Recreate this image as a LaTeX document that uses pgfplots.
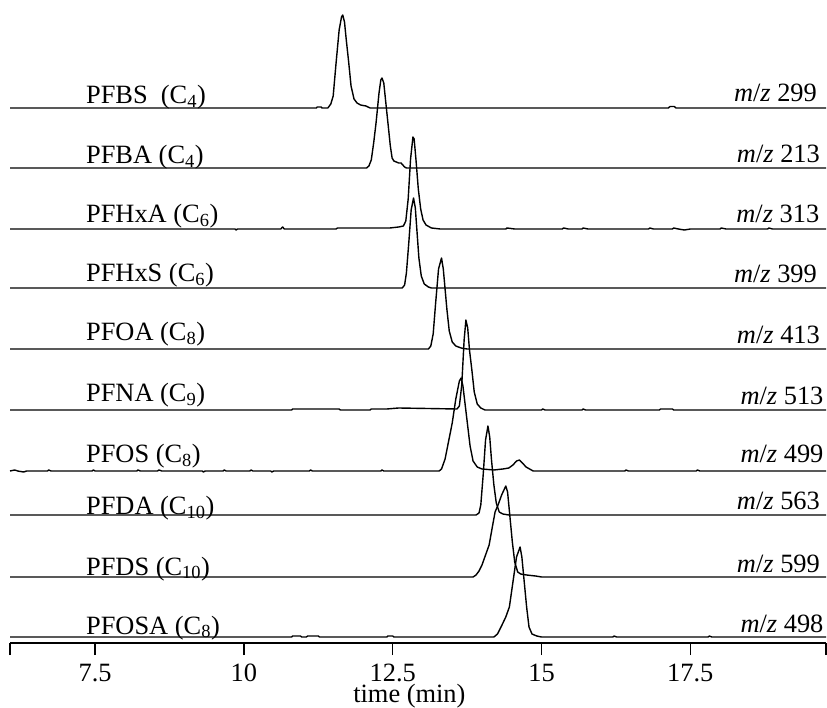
\documentclass[border=0pt]{standalone}
\usepackage{pgfplots}
\pgfplotsset{compat=1.18}
\usepackage{fontspec}
\setmainfont{Liberation Serif}
\pgfplotsset{trace/.style={black, solid, no marks, line width=1.4bp, line join=round}}
\begin{document}
\fontsize{26.5}{31}\selectfont
\begin{tikzpicture}
\useasboundingbox (-10bp,-65bp) rectangle (817bp,643bp);
\begin{axis}[
  scale only axis, width=816bp, height=643bp,
  xmin=6.07, xmax=19.78, ymin=0, ymax=643,
  axis x line*=bottom, axis y line=none,
  axis line style={line width=1.7bp},
  xtick={7.5,10,12.5,15,17.5},
  xticklabels={7.5,10,12.5,15,17.5},
  extra x ticks={6.07,19.78}, extra x tick labels={},
  tick align=outside, major tick length=12bp,
  every tick/.style={line width=1.3bp, black},
  /pgf/number format/assume math mode=true,
  xticklabel style={font=\fontsize{26.5}{31}\selectfont, yshift=0bp},
  clip=false,
]
% PFBS
\addplot[trace] table[y expr=\thisrowno{1}+535] {
x y
6.07 0
11.22 0
11.23 1
11.30 1
11.31 0
11.41 0
11.46 4
11.50 12
11.55 46
11.60 78
11.64 91
11.66 93
11.69 86
11.72 68
11.76 46
11.80 22
11.85 9
11.90 5
11.96 3
12.05 2
12.12 0
17.13 0
17.16 1.5
17.23 1.5
17.26 0
19.78 0
};
% PFBA
\addplot[trace] table[y expr=\thisrowno{1}+475] {
x y
6.07 0
12.06 0
12.10 2
12.14 8
12.18 25
12.22 45
12.27 75
12.30 88
12.32 90
12.35 85
12.39 62
12.42 45
12.46 22
12.49 10
12.52 7
12.56 6
12.60 5
12.64 5
12.67 3
12.70 1
12.73 0
19.78 0
};
% PFHxA
\addplot[trace] table[y expr=\thisrowno{1}+414] {
x y
6.07 0
9.85 0
9.87 -1
9.89 0
10.62 0
10.65 2
10.68 0
11.55 0
11.57 1
12.45 1
12.60 2
12.68 3
12.72 8
12.76 30
12.80 70
12.84 92
12.86 90
12.89 70
12.93 40
12.97 20
13.01 9
13.06 4
13.15 1
13.30 0
14.40 0
14.42 1
14.55 0
15.35 0
15.37 1
15.45 0
15.68 0
15.70 1
15.78 0
16.80 0
16.82 1
16.88 0
17.20 0
17.22 1
17.30 0
17.40 -1
17.50 0
18.00 0
18.02 1
18.10 0
18.80 0
18.82 1
18.88 0
19.78 0
};
% PFHxS
\addplot[trace] table[y expr=\thisrowno{1}+355] {
x y
6.07 0
12.66 0
12.70 3
12.73 15
12.77 45
12.81 78
12.85 90
12.88 80
12.91 55
12.94 30
12.98 12
13.03 4
13.10 1
13.15 0
19.78 0
};
% PFOA
\addplot[trace] table[y expr=\thisrowno{1}+294] {
x y
6.07 0
13.10 0
13.14 3
13.18 15
13.22 45
13.27 80
13.32 91
13.35 80
13.38 60
13.41 40
13.45 18
13.50 7
13.56 3
13.65 1
13.75 0
19.78 0
};
% PFNA
\addplot[trace] table[y expr=\thisrowno{1}+233] {
x y
6.07 0
10.80 0
10.82 1
11.60 1
11.62 0
12.12 0
12.14 1
12.40 1
12.60 2
13.58 1
13.62 4
13.66 25
13.70 70
13.73 90
13.76 82
13.79 60
13.83 40
13.87 18
13.92 6
13.98 2
14.05 0
15.00 0
15.02 1
15.06 0
15.68 0
15.70 1
15.74 0
16.98 0
17.00 1
17.20 1
17.22 0
19.78 0
};
% PFOS
\addplot[trace] table[y expr=\thisrowno{1}+172] {
x y
6.07 0
6.15 1
6.20 0
6.30 -1
6.35 0
6.70 0
6.72 1
6.76 0
7.45 0
7.47 1
7.50 0
8.20 0
8.22 1
8.26 0
8.55 0
8.57 1
8.62 0
9.30 0
9.32 -1
9.35 0
9.65 0
9.67 1
9.70 0
10.10 0
10.12 1
10.15 0
10.45 0
10.47 -1
10.50 0
11.10 0
11.12 1
11.15 0
12.30 0
12.32 1
12.35 0
13.28 0
13.32 2
13.38 12
13.44 30
13.50 48
13.56 72
13.62 90
13.65 93
13.68 85
13.72 65
13.76 45
13.80 25
13.85 10
13.92 4
14.00 2
14.20 1
14.35 2
14.45 3
14.52 6
14.58 10
14.63 11
14.68 8
14.74 4
14.80 2
14.86 0
16.40 0
16.42 1
16.46 0
17.60 0
17.62 1
17.66 0
19.78 0
};
% PFDA
\addplot[trace] table[y expr=\thisrowno{1}+128] {
x y
6.07 0
13.90 0
13.95 2
13.98 10
14.02 40
14.06 75
14.10 89
14.13 78
14.16 55
14.20 30
14.24 12
14.29 3
14.35 1
14.45 0
19.78 0
};
% PFDS
\addplot[trace] table[y expr=\thisrowno{1}+66] {
x y
6.07 0
13.85 0
13.90 2
13.95 6
14.00 12
14.06 22
14.12 32
14.18 52
14.22 65
14.27 72
14.33 82
14.40 91
14.43 85
14.47 60
14.51 35
14.55 15
14.60 5
14.65 3
14.75 2
14.90 1
15.00 0
19.78 0
};
% PFOSA
\addplot[trace] table[y expr=\thisrowno{1}+6] {
x y
6.07 0
10.80 0
10.82 1
10.95 1
10.97 0
11.05 0
11.07 1
11.25 1
11.27 0
12.40 0
12.42 1
12.50 1
12.52 0
14.20 0
14.26 3
14.32 10
14.40 20
14.46 30
14.52 55
14.58 80
14.64 90
14.67 80
14.71 55
14.75 30
14.79 10
14.84 3
14.92 1
15.00 0
16.20 0
16.22 1
16.26 0
17.80 0
17.82 1
17.86 0
19.78 0
};
% x label
\path (axis cs:12.78,-59.5) node[anchor=base, inner sep=0pt] {time (min)};
% left labels
\path (axis cs:7.345,539) node[anchor=base west, inner sep=0pt] {PFBS\ \ (C\textsubscript{4})};
\path (axis cs:7.345,479) node[anchor=base west, inner sep=0pt] {PFBA (C\textsubscript{4})};
\path (axis cs:7.345,420.3) node[anchor=base west, inner sep=0pt] {PFHxA (C\textsubscript{6})};
\path (axis cs:7.345,361.3) node[anchor=base west, inner sep=0pt] {PFHxS (C\textsubscript{6})};
\path (axis cs:7.345,302.3) node[anchor=base west, inner sep=0pt] {PFOA (C\textsubscript{8})};
\path (axis cs:7.345,241.3) node[anchor=base west, inner sep=0pt] {PFNA (C\textsubscript{9})};
\path (axis cs:7.345,180) node[anchor=base west, inner sep=0pt] {PFOS (C\textsubscript{8})};
\path (axis cs:7.345,128) node[anchor=base west, inner sep=0pt] {PFDA (C\textsubscript{10})};
\path (axis cs:7.345,68) node[anchor=base west, inner sep=0pt] {PFDS (C\textsubscript{10})};
\path (axis cs:7.345,9) node[anchor=base west, inner sep=0pt] {PFOSA (C\textsubscript{8})};
% right labels
\path (axis cs:19.63,541.3) node[anchor=base east, inner sep=0pt] {\textit{m}/\textit{z} 299};
\path (axis cs:19.68,480.7) node[anchor=base east, inner sep=0pt] {\textit{m}/\textit{z} 213};
\path (axis cs:19.67,420) node[anchor=base east, inner sep=0pt] {\textit{m}/\textit{z} 313};
\path (axis cs:19.63,360) node[anchor=base east, inner sep=0pt] {\textit{m}/\textit{z} 399};
\path (axis cs:19.68,299) node[anchor=base east, inner sep=0pt] {\textit{m}/\textit{z} 413};
\path (axis cs:19.74,238) node[anchor=base east, inner sep=0pt] {\textit{m}/\textit{z} 513};
\path (axis cs:19.74,180) node[anchor=base east, inner sep=0pt] {\textit{m}/\textit{z} 499};
\path (axis cs:19.68,133) node[anchor=base east, inner sep=0pt] {\textit{m}/\textit{z} 563};
\path (axis cs:19.68,71) node[anchor=base east, inner sep=0pt] {\textit{m}/\textit{z} 599};
\path (axis cs:19.74,11) node[anchor=base east, inner sep=0pt] {\textit{m}/\textit{z} 498};
\end{axis}
\end{tikzpicture}
\end{document}
